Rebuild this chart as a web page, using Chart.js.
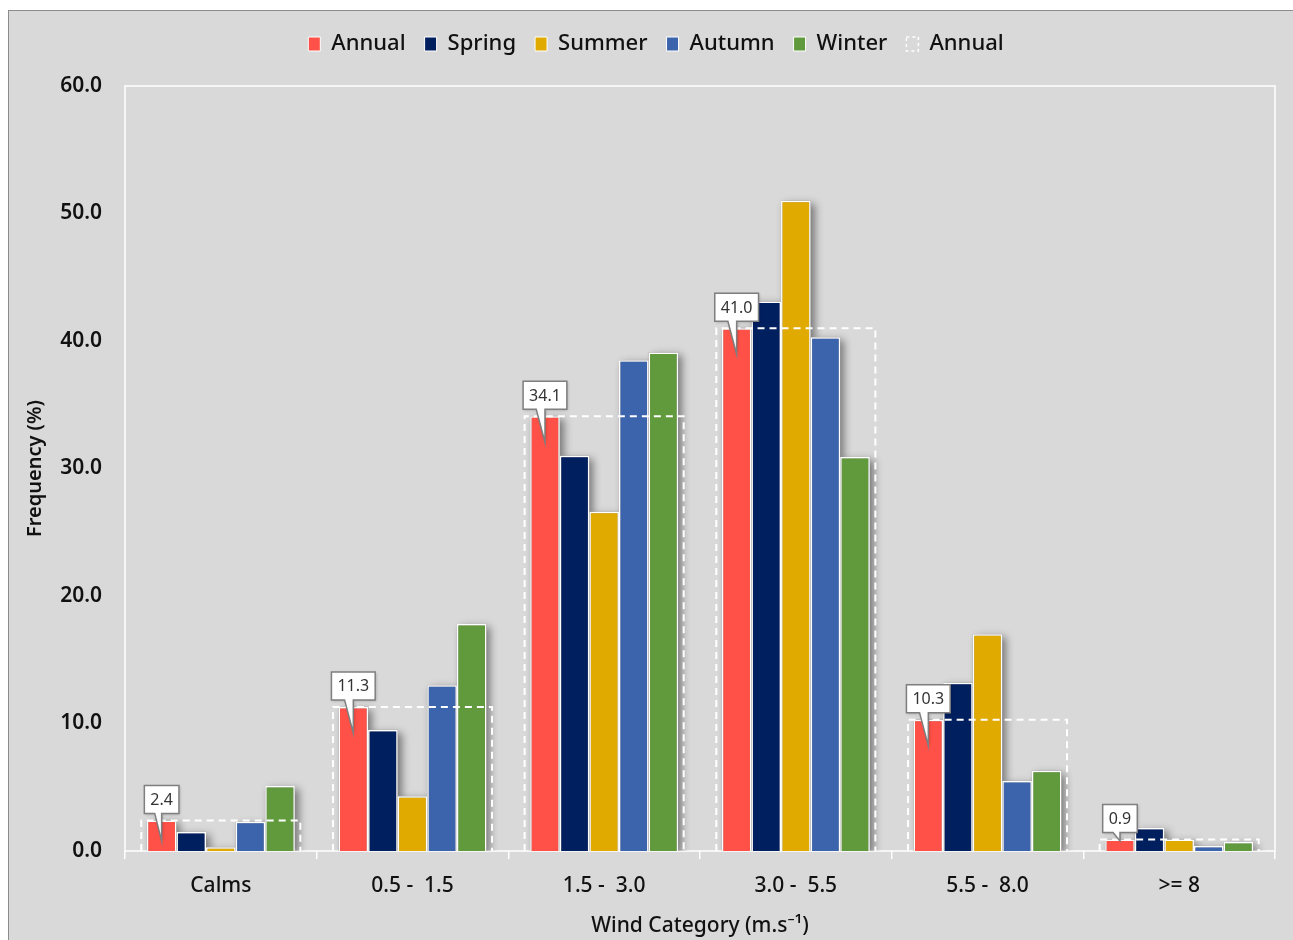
<!DOCTYPE html>
<html>
<head>
<meta charset="utf-8">
<title>Wind frequency by category</title>
<script src="https://cdn.jsdelivr.net/npm/chart.js@4.4.1/dist/chart.umd.min.js"></script>
<style>
  html, body { margin: 0; padding: 0; background: #fff; overflow: hidden; }
  #frame {
    position: absolute; left: 8px; top: 10px;
    width: 1300px; height: 950px;
    background: #d9d9d9; border: 1px solid #8c8c8c;
  }
  #chart { position: absolute; left: 0; top: 0; }
</style>
</head>
<body>
<div id="frame"><canvas id="chart" width="1284" height="929"></canvas></div>
<script>
// wind speed classes (m/s)
const categories = ['Calms', '0.5 -  1.5', '1.5 -  3.0', '3.0 -  5.5', '5.5 -  8.0', '>= 8'];

// frequency (%) per class
const annual = [2.4, 11.3, 34.1, 41.0, 10.3, 0.9];
const spring = [1.5, 9.5, 31.0, 43.1, 13.2, 1.8];
const summer = [0.3, 4.3, 26.6, 51.0, 17.0, 0.9];
const autumn = [2.3, 13.0, 38.5, 40.3, 5.5, 0.4];
const winter = [5.1, 17.8, 39.1, 30.9, 6.3, 0.7];

const yMin = 0, yMax = 60, yStep = 10;

const FONT = '"Noto Sans", sans-serif';
Chart.defaults.font.family = FONT;
Chart.defaults.color = '#111';

function season(label, data, color) {
  return {
    label, data,
    backgroundColor: color,
    borderColor: '#fff',
    borderWidth: 1.5,
    categoryPercentage: 0.772,
    barPercentage: 1
  };
}

// ---------- plugins ----------
// extra room under the legend, legend nudged a bit right/down
const legendGap = {
  id: 'legendGap',
  beforeInit(chart) {
    const legend = chart.legend;
    const fit = legend.fit;
    legend.fit = function () {
      fit.call(this);
      this.height += 24;
    };
    const draw = legend.draw;
    legend.draw = function () {
      const ctx = this.ctx;
      ctx.save();
      ctx.translate(14, 3);
      draw.call(this);
      ctx.restore();
    };
  }
};

// white frame round the plot area
const plotFrame = {
  id: 'plotFrame',
  beforeDatasetsDraw(chart) {
    const { ctx, chartArea: a } = chart;
    ctx.save();
    ctx.strokeStyle = '#fff';
    ctx.lineWidth = 1.5;
    ctx.strokeRect(a.left, a.top, a.right - a.left, a.bottom - a.top);
    ctx.restore();
  }
};

// soft drop shadow behind the season bars
const barShadow = {
  id: 'barShadow',
  beforeDatasetsDraw(chart) {
    const { ctx, chartArea: a } = chart;
    ctx.save();
    ctx.beginPath();
    ctx.rect(a.left, a.top, a.right - a.left, a.bottom - a.top);
    ctx.clip();
    ctx.shadowColor = 'rgba(0,0,0,0.45)';
    ctx.shadowBlur = 8;
    ctx.shadowOffsetX = 4;
    ctx.shadowOffsetY = 3;
    ctx.fillStyle = '#999';
    chart.data.datasets.forEach((ds, i) => {
      const meta = chart.getDatasetMeta(i);
      if (ds.outline || meta.hidden) return;
      meta.data.forEach(bar => {
        const { x, y, base, width } = bar.getProps(['x', 'y', 'base', 'width'], true);
        ctx.fillRect(x - width / 2, y, width, base - y);
      });
    });
    ctx.restore();
  }
};

// dashed annual envelope + value callouts on the annual bars
const annualOverlay = {
  id: 'annualOverlay',
  afterDatasetsDraw(chart) {
    const ctx = chart.ctx;
    const oi = chart.data.datasets.findIndex(d => d.outline);
    const outline = chart.getDatasetMeta(oi);
    if (!outline.hidden) {
      ctx.save();
      ctx.strokeStyle = '#fff';
      ctx.lineWidth = 2;
      ctx.setLineDash([7, 5]);
      outline.data.forEach(bar => {
        const { x, y, base, width } = bar.getProps(['x', 'y', 'base', 'width'], true);
        ctx.beginPath();
        ctx.moveTo(x - width / 2, base);
        ctx.lineTo(x - width / 2, y);
        ctx.lineTo(x + width / 2, y);
        ctx.lineTo(x + width / 2, base);
        ctx.stroke();
      });
      ctx.restore();
    }

    const meta = chart.getDatasetMeta(0);
    if (meta.hidden) return;
    ctx.save();
    ctx.font = '16px ' + FONT;
    ctx.textAlign = 'center';
    ctx.textBaseline = 'middle';
    meta.data.forEach((bar, i) => {
      const { x, y, base } = bar.getProps(['x', 'y', 'base'], true);
      const text = annual[i].toFixed(1);
      const w = ctx.measureText(text).width + 12;
      const h = 28;
      const left = x - w / 2;
      const bottom = y - 7;
      const top = bottom - h;
      const tipY = Math.min(y + 26, base - 10);

      ctx.beginPath();
      ctx.moveTo(left, top);
      ctx.lineTo(left + w, top);
      ctx.lineTo(left + w, bottom);
      ctx.lineTo(left + w * 0.5, bottom);
      ctx.lineTo(x, tipY);
      ctx.lineTo(left + w * 0.3, bottom);
      ctx.lineTo(left, bottom);
      ctx.closePath();
      ctx.save();
      ctx.shadowColor = 'rgba(0,0,0,0.25)';
      ctx.shadowBlur = 3;
      ctx.shadowOffsetX = 1;
      ctx.shadowOffsetY = 1;
      ctx.fillStyle = '#fff';
      ctx.fill();
      ctx.restore();
      ctx.strokeStyle = '#7f7f7f';
      ctx.lineWidth = 1.5;
      ctx.stroke();

      ctx.fillStyle = '#333';
      ctx.fillText(text, left + w / 2, top + h / 2 + 1);
    });
    ctx.restore();
  }
};

// ---------- chart ----------
new Chart(document.getElementById('chart'), {
  type: 'bar',
  data: {
    labels: categories,
    datasets: [
      season('Annual', annual, '#ff5147'),
      season('Spring', spring, '#001f5f'),
      season('Summer', summer, '#e1aa00'),
      season('Autumn', autumn, '#3c64ac'),
      season('Winter', winter, '#619a3c'),
      {
        label: 'Annual',
        data: annual,
        outline: true,
        grouped: false,
        categoryPercentage: 0.83,
        barPercentage: 1,
        backgroundColor: 'rgba(0,0,0,0)',
        borderWidth: 0
      }
    ]
  },
  options: {
    responsive: false,
    animation: false,
    layout: { padding: { left: 0, right: 18, top: 0, bottom: 0 } },
    plugins: {
      tooltip: { enabled: false },
      legend: {
        position: 'top',
        labels: {
          font: { size: 22, weight: '500' },
          color: '#111',
          boxWidth: 12,
          boxHeight: 14,
          padding: 19,
          generateLabels(chart) {
            const items = Chart.defaults.plugins.legend.labels.generateLabels(chart);
            items.forEach(it => {
              const ds = chart.data.datasets[it.datasetIndex];
              it.strokeStyle = '#fff';
              it.lineWidth = 1;
              if (ds.outline) {
                it.fillStyle = 'rgba(0,0,0,0)';
                it.lineWidth = 1.5;
                it.lineDash = [3, 3];
              }
            });
            return items;
          }
        }
      }
    },
    scales: {
      x: {
        grid: {
          display: true, drawOnChartArea: false, drawTicks: true,
          tickLength: 8, color: '#fff', lineWidth: 1.5, offset: true
        },
        border: { display: false },
        ticks: { font: { size: 21, weight: '500' }, color: '#111', padding: 14, maxRotation: 0, autoSkip: false },
        title: {
          display: true,
          text: 'Wind Category (m.s\u207B\u00B9)',
          font: { size: 21, weight: '500' },
          color: '#111',
          padding: { top: 4, bottom: 1 }
        },
        afterFit(s) { s.height = 89; }
      },
      y: {
        min: yMin, max: yMax,
        grid: { display: false, drawTicks: false },
        border: { display: false },
        ticks: {
          stepSize: yStep,
          callback: v => v.toFixed(1),
          font: { size: 21, weight: '600' },
          color: '#111',
          padding: 23
        },
        title: {
          display: true,
          text: 'Frequency (%)',
          font: { size: 20, weight: '600' },
          color: '#111',
          padding: { top: 14, bottom: 0 }
        },
        afterFit(s) { s.width = 116; }
      }
    }
  },
  plugins: [legendGap, plotFrame, barShadow, annualOverlay]
});
</script>
</body>
</html>
